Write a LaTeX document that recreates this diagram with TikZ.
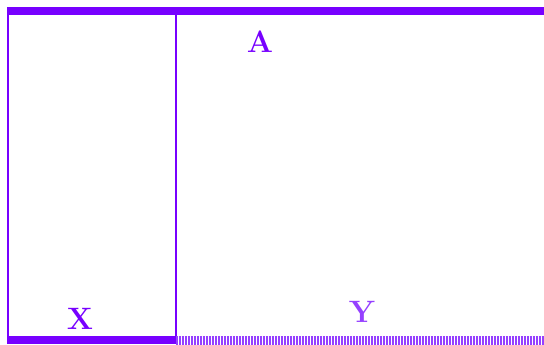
\documentclass[tikz,border=0pt]{standalone}
\usepackage{tikz}
\usetikzlibrary{positioning}
\definecolor{cviolet}{HTML}{7700FF}
\definecolor{lightviolet}{HTML}{9540FF}

\begin{document}
\begin{tikzpicture}[
    edge/.style={draw=cviolet, line width=0.1cm},
    thickedge/.style={draw=cviolet, line width=0.4cm},
    hatchedge/.style={draw=lightviolet, line width=0.45cm, dash pattern=on 0.1cm off 0.05cm},
    letter/.style={text=cviolet, font=\bfseries\fontsize{44}{48}\selectfont, inner sep=0pt},
    softletter/.style={text=lightviolet, font=\bfseries\fontsize{44}{48}\selectfont, inner sep=0pt}
  ]
  \useasboundingbox (0,0) rectangle (27.2,17.2);
  % frame corners
  \coordinate (tl) at (0.35,16.65);
  \coordinate (tr) at (27.2,16.65);
  \coordinate (tm) at (8.78,16.65);
  \coordinate (bl) at (0.35,0.2);
  \coordinate (bm) at (8.78,0.2);
  \coordinate (br) at (27.2,0.2);
  % walls
  \draw[edge] (0.4,16.65) -- (0.4,0.2);
  \draw[edge] (tm) -- (bm);
  \draw[thickedge] (tl) -- (tr);
  \draw[thickedge] (bl) -- (bm);
  \draw[hatchedge] (bm) -- (br);
  % labels
  \node[letter] (a) at (13.0,15.1) {A};
  \node[letter] (x) at (4.0,1.25) {X};
  \node[softletter] (y) at (18.1,1.6) {Y};
\end{tikzpicture}
\end{document}
